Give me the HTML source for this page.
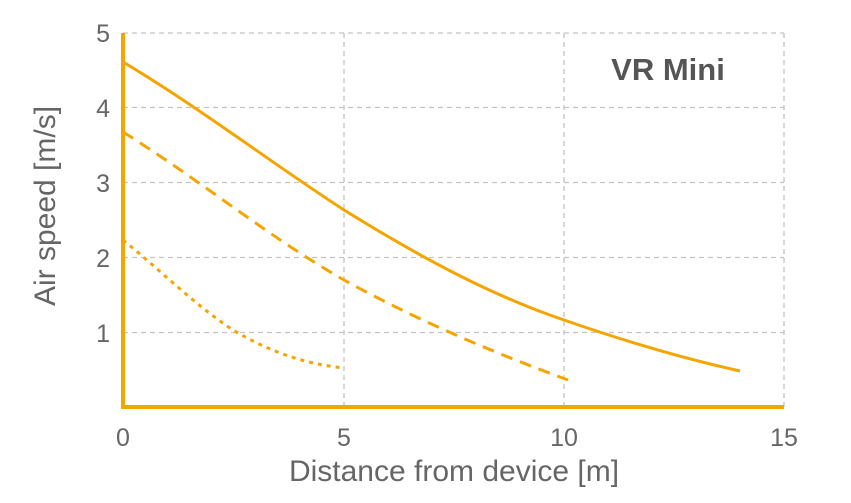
<!DOCTYPE html>
<html><head><meta charset="utf-8"><style>
html,body{margin:0;padding:0;background:#fff;width:851px;height:503px;overflow:hidden}
svg text{font-family:"Liberation Sans",sans-serif}
</style></head><body>
<svg width="851" height="503" viewBox="0 0 851 503" xmlns="http://www.w3.org/2000/svg">
<g stroke="#c4c4c4" stroke-width="1.3" stroke-dasharray="5,4" fill="none">
<line x1="123" y1="33" x2="784" y2="33"/>
<line x1="123" y1="107.5" x2="784" y2="107.5"/>
<line x1="123" y1="182.5" x2="784" y2="182.5"/>
<line x1="123" y1="257.5" x2="784" y2="257.5"/>
<line x1="123" y1="332.5" x2="784" y2="332.5"/>
<line x1="344" y1="33" x2="344" y2="407"/>
<line x1="564" y1="33" x2="564" y2="407"/>
<line x1="784" y1="33" x2="784" y2="407"/>
</g>
<g fill="none" stroke="#f5a500" stroke-width="3">
<path d="M123,62 C200,108 270,162 344,210 C420,257 490,295 564,320 C630,343 690,360 740,371"/>
<path stroke-dasharray="12,8" d="M123,132 C200,180 270,238 344,280 C420,322 500,355 568,380"/>
<path stroke-dasharray="4,5" d="M123,240 C160,270 195,305 233,330 C270,352 305,364 344,368"/>
</g>
<line x1="123" y1="33" x2="123" y2="409" stroke="#f5a500" stroke-width="4"/>
<line x1="121" y1="407" x2="784" y2="407" stroke="#f5a500" stroke-width="4"/>
<g fill="#666" font-size="25">
<text x="110" y="42" text-anchor="end">5</text>
<text x="110" y="117" text-anchor="end">4</text>
<text x="110" y="192" text-anchor="end">3</text>
<text x="110" y="267" text-anchor="end">2</text>
<text x="110" y="342" text-anchor="end">1</text>
<text x="123" y="446" text-anchor="middle">0</text>
<text x="344" y="446" text-anchor="middle">5</text>
<text x="564" y="446" text-anchor="middle">10</text>
<text x="784" y="446" text-anchor="middle">15</text>
<text x="454" y="481" text-anchor="middle" font-size="30">Distance from device [m]</text>
<text transform="translate(55,206) rotate(-90)" text-anchor="middle" font-size="30">Air speed [m/s]</text>
</g>
<text x="668" y="80" text-anchor="middle" font-size="31" font-weight="bold" fill="#555">VR Mini</text>
</svg>
</body></html>
